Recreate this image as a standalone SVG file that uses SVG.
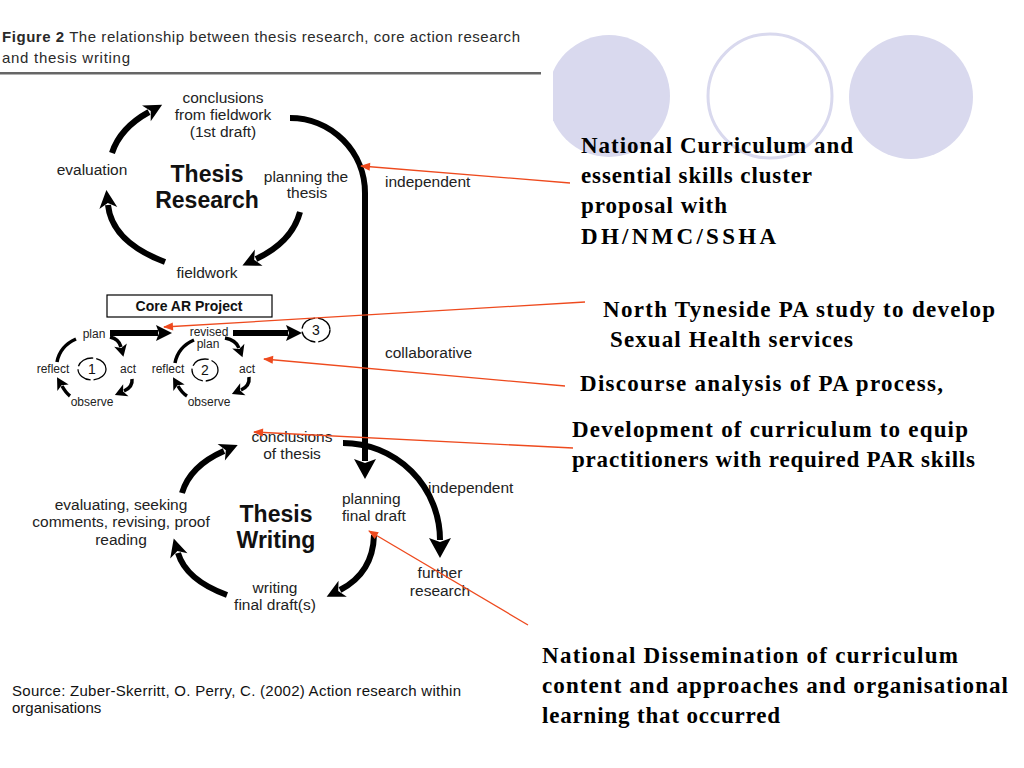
<svg xmlns="http://www.w3.org/2000/svg" width="1024" height="768" viewBox="0 0 1024 768">
<style>
.lbl{font-family:"Liberation Sans",Arial,sans-serif;font-size:15.5px;fill:#222;text-anchor:middle}
.sm{font-family:"Liberation Sans",Arial,sans-serif;font-size:12px;fill:#222;text-anchor:middle}
.big{font-family:"Liberation Sans",Arial,sans-serif;font-size:23px;font-weight:bold;fill:#111;text-anchor:middle}
.rt{font-family:"Liberation Serif","Times New Roman",serif;font-size:23px;font-weight:bold;fill:#000}
.hd{font-family:"Liberation Sans",Arial,sans-serif;font-size:15px;fill:#2a2a2a}
.src{font-family:"Liberation Sans",Arial,sans-serif;font-size:15px;fill:#111}
.arc{fill:none;stroke:#000;stroke-width:6}
.arcs{fill:none;stroke:#000;stroke-width:3.5}
.red{fill:none;stroke:#ee4a1e;stroke-width:1.3}
.num{fill:none;stroke:#000;stroke-width:1.3;stroke-dasharray:18 3}
</style>
<defs>
<marker id="ah" markerUnits="userSpaceOnUse" markerWidth="18" markerHeight="18" refX="3" refY="9" orient="auto" overflow="visible"><path d="M0,0 L18,9 L0,18 L5,9 z" fill="#000"/></marker>
<marker id="ahv" markerUnits="userSpaceOnUse" markerWidth="20" markerHeight="22" refX="2" refY="11" orient="auto" overflow="visible"><path d="M0,0 L20,11 L0,22 L4,11 z" fill="#000"/></marker>
<marker id="ahm" markerUnits="userSpaceOnUse" markerWidth="16" markerHeight="16" refX="2" refY="8" orient="auto" overflow="visible"><path d="M0,0 L16,8 L0,16 L3,8 z" fill="#000"/></marker>
<marker id="ahs" markerUnits="userSpaceOnUse" markerWidth="12" markerHeight="13" refX="2" refY="6.5" orient="auto" overflow="visible"><path d="M0,0 L12,6.5 L0,13 L3,6.5 z" fill="#000"/></marker>
<marker id="ahr" markerUnits="userSpaceOnUse" markerWidth="10" markerHeight="8" refX="9" refY="4" orient="auto" overflow="visible"><path d="M0,0 L10,4 L0,8 z" fill="#ee4a1e"/></marker>
<clipPath id="clipL"><rect x="553" y="0" width="471" height="768"/></clipPath>
</defs>
<rect width="1024" height="768" fill="#fff"/>

<g id="bg-circles">
<circle cx="609" cy="96" r="61" fill="#d9d9ee" clip-path="url(#clipL)"/>
<circle cx="770" cy="96" r="62" fill="none" stroke="#d9d9ee" stroke-width="3"/>
<circle cx="911" cy="97" r="62" fill="#d9d9ee"/>
</g>

<g id="header">
<text class="hd" x="2" y="42" textLength="518" lengthAdjust="spacing"><tspan font-weight="bold">Figure 2</tspan> The relationship between thesis research, core action research</text>
<text class="hd" x="2" y="63" textLength="128" lengthAdjust="spacing">and thesis writing</text>
<rect x="0" y="72" width="541" height="2.5" fill="#666"/>
</g>

<g id="thesis-research">
<text class="lbl" x="223" y="103">conclusions</text>
<text class="lbl" x="223" y="120">from fieldwork</text>
<text class="lbl" x="223" y="137">(1st draft)</text>
<text class="lbl" x="92" y="175">evaluation</text>
<text class="big" x="207" y="182">Thesis</text>
<text class="big" x="207" y="208">Research</text>
<text class="lbl" x="306" y="182">planning the</text>
<text class="lbl" x="307" y="198">thesis</text>
<text class="lbl" x="207" y="278">fieldwork</text>
</g>

<g id="core-ar">
<rect x="107" y="295" width="165" height="22" fill="#fff" stroke="#000" stroke-width="1.2"/>
<text x="189" y="311" font-family="Liberation Sans,Arial,sans-serif" font-size="14px" font-weight="bold" fill="#111" text-anchor="middle">Core AR Project</text>
</g>

<g id="ar-cycle-1">
<text class="sm" x="94" y="338">plan</text>
<text class="sm" x="53" y="373">reflect</text>
<text class="sm" x="128" y="373">act</text>
<text class="sm" x="92" y="406">observe</text>
<ellipse class="num" cx="92" cy="369" rx="14" ry="11"/>
<text x="92" y="374" font-family="Liberation Sans,Arial,sans-serif" font-size="14px" fill="#111" text-anchor="middle">1</text>
</g>

<g id="ar-cycle-2">
<text class="sm" x="209" y="336">revised</text>
<text class="sm" x="208" y="348">plan</text>
<text class="sm" x="168" y="373">reflect</text>
<text class="sm" x="247" y="373">act</text>
<text class="sm" x="209" y="406">observe</text>
<ellipse class="num" cx="205" cy="370" rx="13" ry="11"/>
<text x="205" y="375" font-family="Liberation Sans,Arial,sans-serif" font-size="14px" fill="#111" text-anchor="middle">2</text>
</g>

<g id="ar-cycle-3">
<ellipse class="num" cx="316" cy="330" rx="14" ry="12"/>
<text x="316" y="335" font-family="Liberation Sans,Arial,sans-serif" font-size="14px" fill="#111" text-anchor="middle">3</text>
</g>

<g id="thesis-writing">
<text class="lbl" x="292" y="442">conclusions</text>
<text class="lbl" x="292" y="459">of thesis</text>
<text class="lbl" x="121" y="510">evaluating, seeking</text>
<text class="lbl" x="121" y="527">comments, revising, proof</text>
<text class="lbl" x="121" y="545">reading</text>
<text class="big" x="276" y="522">Thesis</text>
<text class="big" x="276" y="548">Writing</text>
<text class="lbl" x="275" y="593">writing</text>
<text class="lbl" x="275" y="610">final draft(s)</text>
<text class="lbl" x="342" y="504" style="text-anchor:start">planning</text>
<text class="lbl" x="342" y="521" style="text-anchor:start">final draft</text>
<text class="lbl" x="440" y="578">further</text>
<text class="lbl" x="440" y="596">research</text>
</g>

<g id="flow-labels">
<text class="lbl" x="385" y="187" style="text-anchor:start">independent</text>
<text class="lbl" x="385" y="358" style="text-anchor:start">collaborative</text>
<text class="lbl" x="428" y="493" style="text-anchor:start">independent</text>
</g>

<g id="connectors">
<path class="arc" d="M112,153 Q120,128 149,112" marker-end="url(#ah)"/>
<path class="arc" d="M165,262 Q112,242 108,205" marker-end="url(#ah)"/>
<path class="arc" d="M300,212 Q292,242 256,259" marker-end="url(#ah)"/>
<path class="arc" d="M290,118 A75,75 0 0 1 365,193 L365,461" stroke-width="5.5" marker-end="url(#ahv)"/>
<path class="arc" d="M343,443 A97,97 0 0 1 440,540" marker-end="url(#ahv)"/>
<path class="arc" d="M182,493 Q190,466 224,451" marker-end="url(#ah)"/>
<path class="arc" d="M227,595 Q186,580 178,553" marker-end="url(#ah)"/>
<path class="arc" d="M374,535 Q373,573 340,590" marker-end="url(#ah)"/>
<path class="arc" d="M110,333 L158,333" stroke-width="5" marker-end="url(#ahm)"/>
<path class="arc" d="M233,333 L288,333" stroke-width="5" marker-end="url(#ahm)"/>
<path class="arcs" d="M110,337 Q119,339 121,347" marker-end="url(#ahs)"/>
<path class="arcs" d="M132,379 Q133,387 124,391" marker-end="url(#ahs)"/>
<path class="arcs" d="M70,396 Q66,393 62,386" marker-end="url(#ahs)"/>
<path class="arcs" d="M57,362 Q60,346 76,339"/>
<path class="arcs" d="M225,338 Q236,340 239,348" marker-end="url(#ahs)"/>
<path class="arcs" d="M249,377 Q250,386 241,390" marker-end="url(#ahs)"/>
<path class="arcs" d="M187,396 Q182,393 178,386" marker-end="url(#ahs)"/>
<path class="arcs" d="M175,363 Q178,347 194,340"/>
<path class="red" d="M570,183 L361,166" marker-end="url(#ahr)"/>
<path class="red" d="M585,302 L164,327" marker-end="url(#ahr)"/>
<path class="red" d="M565,386 L264,359" marker-end="url(#ahr)"/>
<path class="red" d="M573,448 L254,432" marker-end="url(#ahr)"/>
<path class="red" d="M528,625 L369,531" marker-end="url(#ahr)"/>
</g>

<g id="annotations">
<text class="rt" x="581" y="153" textLength="272">National Curriculum and</text>
<text class="rt" x="581" y="183" textLength="231">essential skills cluster</text>
<text class="rt" x="581" y="213" textLength="146">proposal with</text>
<text class="rt" x="581" y="244" textLength="195">DH/NMC/SSHA</text>
<text class="rt" x="603" y="317" textLength="392">North Tyneside PA study to develop</text>
<text class="rt" x="610" y="347" textLength="243">Sexual Health services</text>
<text class="rt" x="580" y="391" textLength="363">Discourse analysis of PA process,</text>
<text class="rt" x="572" y="437" textLength="396">Development of curriculum to equip</text>
<text class="rt" x="572" y="467" textLength="403">practitioners with required PAR skills</text>
<text class="rt" x="542" y="663" textLength="416">National Dissemination of curriculum</text>
<text class="rt" x="542" y="693" textLength="466">content and approaches and organisational</text>
<text class="rt" x="542" y="723" textLength="238">learning that occurred</text>
</g>

<g id="source">
<text class="src" x="12" y="696" textLength="449">Source: Zuber-Skerritt, O. Perry, C. (2002) Action research within</text>
<text class="src" x="12" y="713">organisations</text>
</g>
</svg>
